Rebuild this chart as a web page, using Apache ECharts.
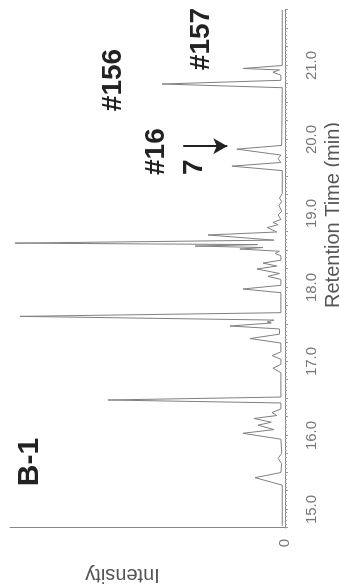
<!DOCTYPE html>
<html>
<head>
<meta charset="utf-8">
<script src="https://cdn.jsdelivr.net/npm/echarts@6/dist/echarts.min.js"></script>
<style>
  html, body { margin: 0; padding: 0; background: #fff; overflow: hidden; }
  /* chart is drawn landscape, then turned a quarter to the left */
  #wrap {
    position: absolute; left: 0; top: 0;
    width: 586px; height: 339px;
    transform-origin: 0 0;
    transform: translate(0, 586px) rotate(-90deg);
  }
</style>
</head>
<body>
<div id="wrap"></div>
<script>
// retention time (min) and intensity (% of full scale)
const retentionTime = [
  14.78, 15.33, 15.43, 15.50, 15.62, 15.69, 15.76, 15.95, 16.03, 16.08,
  16.14, 16.18, 16.23, 16.27, 16.31, 16.36, 16.44, 16.48, 16.52, 16.85,
  16.91, 16.96, 17.03, 17.08, 17.13, 17.25, 17.31, 17.37, 17.44, 17.48,
  17.52, 17.535, 17.56, 17.61, 17.66, 17.93, 17.98, 18.03, 18.11, 18.15,
  18.19, 18.25, 18.29, 18.33, 18.37, 18.43, 18.46, 18.49, 18.52, 18.54,
  18.56, 18.58, 18.60, 18.64, 18.71, 18.75, 18.81, 18.85, 18.88, 18.92,
  18.98, 19.03, 19.11, 19.16, 19.21, 19.27, 19.58, 19.64, 19.69, 19.74,
  19.79, 19.87, 19.92, 20.70, 20.75, 20.80, 20.87, 20.91, 20.94, 20.96,
  21.00, 21.75
];
const intensity = [
  1, 1, 10.9, 1.5, 1.2, 2.5, 1.2, 1.5, 15.3, 4,
  9.8, 5, 11.3, 3, 4.7, 1.5, 1.5, 64.4, 1.5, 1.5,
  4.4, 1.5, 1.5, 4.7, 1.5, 1.5, 12.7, 2, 2, 20,
  5, 6.5, 4, 96.4, 1.5, 1.5, 15.3, 1.5, 1.5, 6.2,
  2, 10.2, 3, 8, 1.5, 1.5, 3.6, 2, 16.4, 8,
  32.7, 10, 98.2, 4, 28, 3, 6.5, 2.5, 4.4, 1.5,
  2.5, 1.2, 2.2, 1.2, 2, 1, 1, 19.3, 1.5, 2.5,
  1.5, 17.5, 1.2, 1, 44.7, 1.5, 1.5, 4.4, 2, 15.3,
  1, 1
];

const timeMin = 14.75;
const timeMax = 21.75;

// arrow pointing at #167: [time, from intensity, to intensity]
const arrowAt = [19.91, 37, 21];

const myChart = echarts.init(document.getElementById('wrap'));

const labelFont = 'bold 28px "Liberation Sans", Arial, sans-serif';

const option = {
  animation: false,
  grid: { left: 58, right: 10, top: 10, bottom: 54, outerBoundsMode: 'none' },
  xAxis: {
    type: 'value',
    min: timeMin,
    max: timeMax,
    interval: 0.25,
    name: 'Retention Time (min)',
    nameLocation: 'middle',
    nameGap: 28,
    nameTextStyle: {
      color: '#555', fontSize: 20, fontFamily: 'Liberation Sans',
      padding: [0, 0, 0, 108]
    },
    axisLine: { lineStyle: { color: '#888', width: 1 } },
    axisTick: { show: true, length: 3, lineStyle: { color: '#999' } },
    minorTick: { show: true, splitNumber: 5, length: 2, lineStyle: { color: '#aaa' } },
    axisLabel: {
      margin: 19,
      color: '#777',
      fontSize: 15,
      fontFamily: 'Liberation Sans',
      formatter: function (v) {
        return Math.abs(v - Math.round(v)) < 1e-6 ? v.toFixed(1) : '';
      }
    },
    splitLine: { show: false }
  },
  yAxis: {
    type: 'value',
    min: 0,
    max: 100,
    name: 'Intensity',
    nameLocation: 'middle',
    nameGap: 37,
    nameTextStyle: {
      color: '#555', fontSize: 20, fontFamily: 'Liberation Sans',
      padding: [0, 0, 0, 50]
    },
    axisLine: { show: true, lineStyle: { color: '#888', width: 1 } },
    axisTick: { show: false },
    axisLabel: {
      margin: 11,
      color: '#777',
      fontSize: 15,
      fontFamily: 'Liberation Sans',
      formatter: function (v) { return v === 0 ? '0' : ''; }
    },
    splitLine: { show: false }
  },
  series: [
    {
      type: 'line',
      data: retentionTime.map((t, i) => [t, intensity[i]]),
      showSymbol: false,
      lineStyle: { color: '#808080', width: 1 },
      markLine: {
        silent: true,
        symbol: ['none', 'arrow'],
        symbolSize: [12, 14],
        label: { show: false },
        lineStyle: { color: '#222', width: 2, type: 'solid' },
        data: [
          [{ coord: [arrowAt[0], arrowAt[1]] }, { coord: [arrowAt[0], arrowAt[2]] }]
        ]
      }
    }
  ],
  graphic: [
    {
      type: 'text', x: 124, y: 30,
      style: { text: 'B-1', font: 'bold 30px "Liberation Sans", Arial, sans-serif', fill: '#222',
        textAlign: 'center', textVerticalAlign: 'middle', align: 'center', verticalAlign: 'middle' }
    },
    {
      type: 'text', x: 506, y: 113,
      style: { text: '#156', font: labelFont, fill: '#222',
        textAlign: 'center', textVerticalAlign: 'middle', align: 'center', verticalAlign: 'middle' }
    },
    {
      type: 'text', x: 547, y: 201,
      style: { text: '#157', font: labelFont, fill: '#222',
        textAlign: 'center', textVerticalAlign: 'middle', align: 'center', verticalAlign: 'middle' }
    },
    {
      type: 'text', x: 411, y: 175,
      style: { text: '#16\n7', font: labelFont, lineHeight: 38, fill: '#222',
        textAlign: 'left', textVerticalAlign: 'middle', align: 'left', verticalAlign: 'middle' }
    }
  ]
};

myChart.setOption(option);
</script>
</body>
</html>
